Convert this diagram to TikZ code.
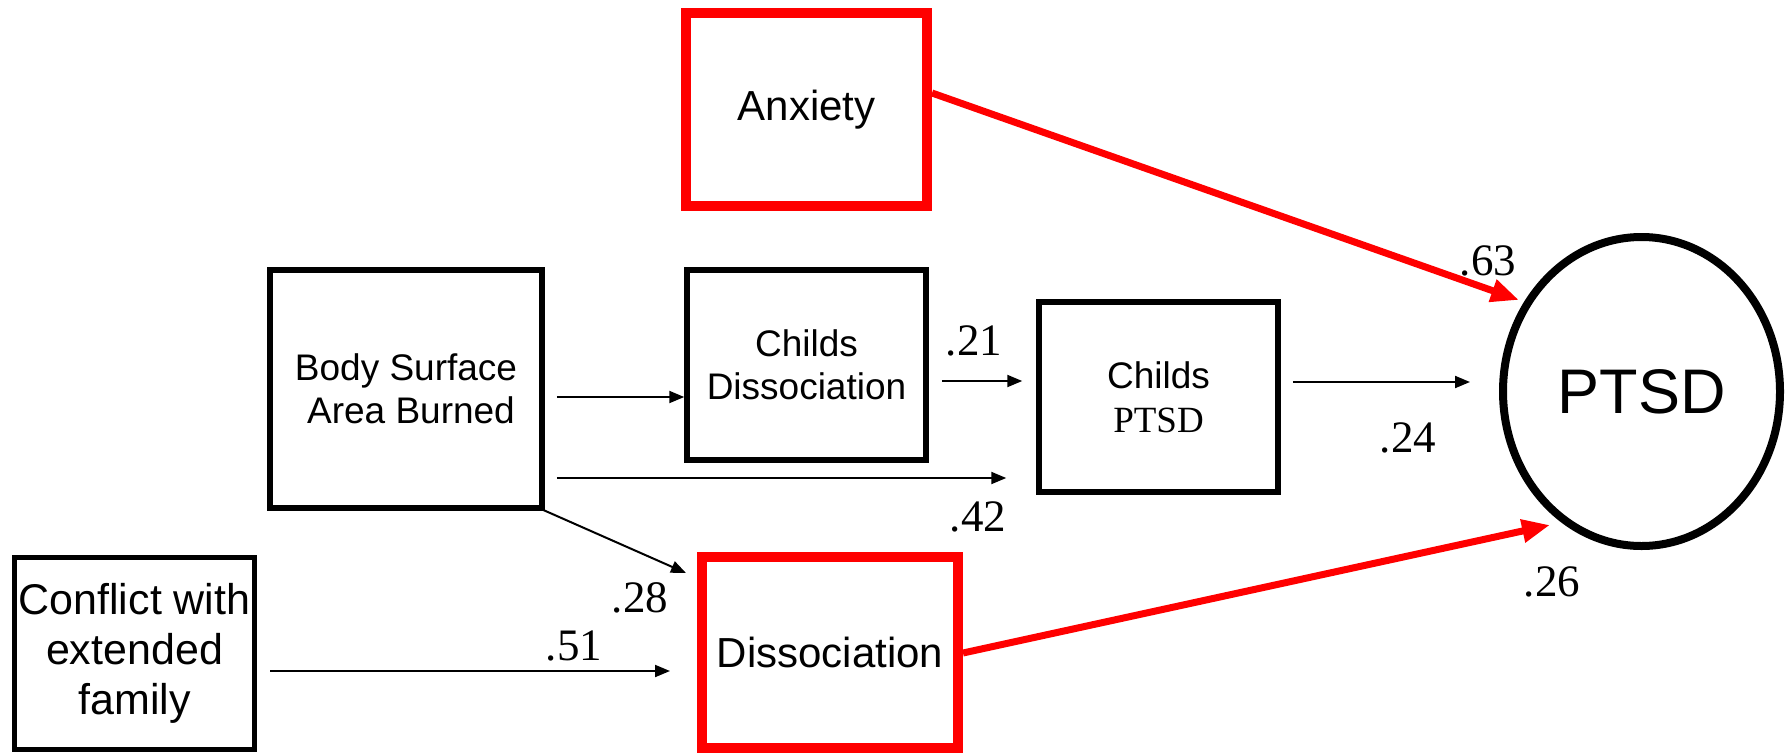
\documentclass[tikz,border=0pt]{standalone}
\usepackage{fontspec}
\setmainfont{Liberation Sans}
\newfontfamily\numfont{Liberation Serif}
\usetikzlibrary{arrows.meta,calc,shapes.geometric}
\definecolor{pathred}{RGB}{255,0,0}
\tikzset{
  box/.style={draw=black, line width=5.5pt, rectangle, inner sep=0pt, align=center},
  redbox/.style={box, draw=pathred, line width=10pt},
  oval/.style={draw=black, line width=8pt, ellipse, inner sep=0pt, align=center},
  thinarrow/.style={line width=2pt, -{Triangle[length=15pt,width=12pt]}},
  redarrow/.style={draw=pathred, line width=7pt, -{Triangle[length=28pt,width=22pt]}},
  coef/.style={font=\numfont\fontsize{45}{50}\selectfont, inner sep=0pt},
}
\begin{document}
\begin{tikzpicture}[x=1pt, y=-1pt]
  \useasboundingbox (0,0) rectangle (1788,753);

  % variables
  \node[redbox, minimum width=241pt, minimum height=193pt,
        font=\fontsize{42}{50}\selectfont] (anx) at (806.5,109.5) {Anxiety};
  \node[box, minimum width=272pt, minimum height=238pt,
        font=\fontsize{37}{43}\selectfont] (body) at (406,389) {Body Surface\\\hspace*{10pt}Area Burned};
  \node[box, minimum width=239pt, minimum height=190pt,
        font=\fontsize{37}{43}\selectfont] (cd) at (806.5,365) {Childs\\Dissociation};
  \node[box, minimum width=239pt, minimum height=190pt,
        font=\fontsize{37}{44}\selectfont] (cp) at (1158.5,397) {Childs\\{\numfont PTSD}};
  \node[oval, minimum width=277pt, minimum height=309pt,
        font=\fontsize{63}{70}\selectfont] (ptsd) at (1641.5,391.5) {PTSD};
  \node[box, minimum width=240pt, minimum height=192pt,
        font=\fontsize{43}{50}\selectfont] (conf) at (134.5,653.5) {Conflict with\\extended\\family};
  \node[redbox, minimum width=256pt, minimum height=191pt,
        font=\fontsize{42}{50}\selectfont] (diss) at (830,652.5) {Dissociation};

  % paths
  \draw[thinarrow] ($(body.east)+(12,8)$) -- ($(cd.west)+(0,32)$);
  \draw[thinarrow] ($(body.east)+(12,89)$) -- ($(cp.west)+(-30,81)$);
  \draw[thinarrow] ($(cd.east)+(13,16)$) -- ($(cp.west)+(-14,-16)$);
  \draw[thinarrow] ($(cp.east)+(12,-15)$) -- ($(ptsd.center)+(-171.5,-9.5)$);
  \draw[thinarrow] ($(body.south east)+(-2,-1)$) -- ($(diss.north west)+(-11,21)$);
  \draw[thinarrow] ($(conf.east)+(13,17.5)$) -- ($(diss.west)+(-27,18.5)$);
  \draw[redarrow] ($(anx.east)+(0,-16.5)$) -- ($(ptsd.center)+(-122.5,-91.5)$);
  \draw[redarrow] ($(diss.east)+(0,0.5)$) -- ($(ptsd.center)+(-91.5,133.5)$);

  % path coefficients
  \node[coef] (c63) at (1488,261) {.63};
  \node[coef] (c21) at (974,341) {.21};
  \node[coef] (c24) at (1408,438) {.24};
  \node[coef] (c42) at (978,517) {.42};
  \node[coef] (c26) at (1552,582) {.26};
  \node[coef] (c28) at (640,598) {.28};
  \node[coef] (c51) at (574,646) {.51};
\end{tikzpicture}
\end{document}
